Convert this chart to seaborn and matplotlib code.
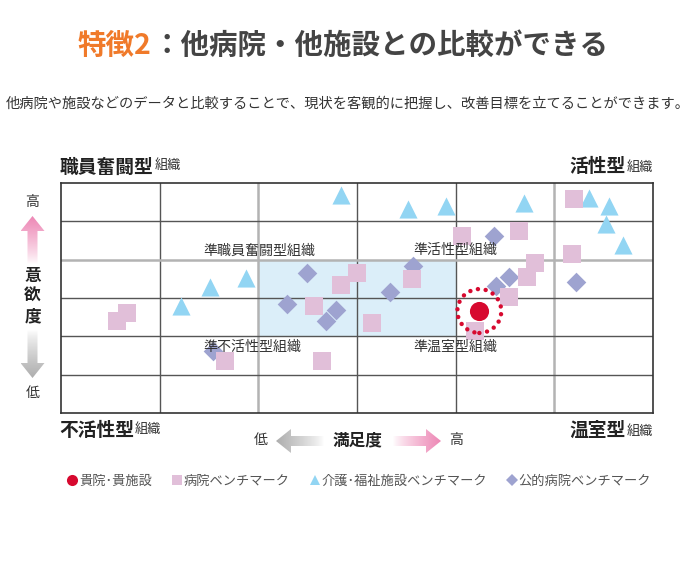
import numpy as np
import pandas as pd
import seaborn as sns
import matplotlib.pyplot as plt
from matplotlib.patches import Polygon, Rectangle
from matplotlib.lines import Line2D

sns.set_style("white")
plt.rcParams['font.family'] = ['Noto Sans CJK JP', 'DejaVu Sans']

# данные: координаты по сетке 6x6 (満足度 по x, 意欲度 по y)
hospital_x = [0.67, 0.57, 3.00, 2.84, 2.56, 1.66, 2.65, 5.20, 4.06, 4.64, 5.18, 4.80, 4.72, 4.54, 3.56, 3.15, 4.20]
hospital_y = [2.60, 2.40, 3.64, 3.33, 2.79, 1.35, 1.35, 5.57, 4.61, 4.74, 4.14, 3.91, 3.54, 3.02, 3.49, 2.34, 2.14]

care_x = [2.84, 1.87, 1.51, 1.22, 3.52, 3.90, 4.69, 5.35, 5.55, 5.52, 5.70]
care_y = [5.68, 3.52, 3.28, 2.79, 5.31, 5.39, 5.47, 5.60, 5.39, 4.92, 4.37]

public_x = [2.49, 2.29, 2.79, 2.69, 1.54, 4.39, 3.57, 3.33, 4.54, 4.41, 5.22]
public_y = [3.65, 2.84, 2.68, 2.40, 1.61, 4.61, 3.83, 3.15, 3.54, 3.31, 3.41]

own_x = [4.24]
own_y = [2.66]

legend_labels = ['貴院･貴施設', '病院ベンチマーク', '介護･福祉施設ベンチマーク', '公的病院ベンチマーク']
quadrant_labels = ['準職員奮闘型組織', '準活性型組織', '準不活性型組織', '準温室型組織']

PINK = '#e1bfd9'
BLUE = '#92d5f3'
VIOLET = '#9ea3d0'
RED = '#d7092f'

df_h = pd.DataFrame({'x': hospital_x, 'y': hospital_y})
df_c = pd.DataFrame({'x': care_x, 'y': care_y})
df_p = pd.DataFrame({'x': public_x, 'y': public_y})
df_o = pd.DataFrame({'x': own_x, 'y': own_y})

W, H = 696, 580
fig = plt.figure(figsize=(W / 100, H / 100), dpi=100)

# слой для оформления в пиксельных координатах
deco = fig.add_axes([0, 0, 1, 1])
deco.set_xlim(0, W)
deco.set_ylim(0, H)
deco.axis('off')

ax = fig.add_axes([61 / W, 167 / H, 592 / W, 230 / H])
ax.set_xlim(0, 6)
ax.set_ylim(0, 6)

# подсвеченная область
ax.add_patch(Rectangle((2, 2), 2, 2, facecolor='#dbeef9', edgecolor='none', zorder=0))

# сетка
for v in range(1, 6):
    c, lw = ('#b3b3b3', 1.8) if v in (2, 5) else ('#555555', 1.0)
    ax.axvline(v, color=c, lw=lw, zorder=1)
for v in range(1, 6):
    c, lw = ('#b3b3b3', 1.8) if v == 4 else ('#555555', 1.0)
    ax.axhline(v, color=c, lw=lw, zorder=1)
for s in ax.spines.values():
    s.set_color('#333333')
    s.set_linewidth(1.2)
ax.set_xticks([])
ax.set_yticks([])

# точки
sns.scatterplot(data=df_c, x='x', y='y', marker='^', s=170, color=BLUE, linewidth=0, ax=ax, zorder=3)
sns.scatterplot(data=df_p, x='x', y='y', marker='D', s=100, color=VIOLET, linewidth=0, ax=ax, zorder=4)
sns.scatterplot(data=df_h, x='x', y='y', marker='s', s=160, color=PINK, linewidth=0, ax=ax, zorder=5)
sns.scatterplot(data=df_o, x='x', y='y', marker='o', s=190, color=RED, linewidth=0, ax=ax, zorder=7)
sns.scatterplot(data=df_o, x='x', y='y', marker='o', s=1000, facecolor='none', edgecolor=RED,
                linewidth=3.2, linestyle=(0, (0.01, 1.75)), capstyle='round', ax=ax, zorder=6)
ax.set_xlabel('')
ax.set_ylabel('')

# подписи квадрантов
ax.text(1.44, 4.24, quadrant_labels[0], fontsize=10.1, color='#333333', va='center', ha='left', zorder=8)
ax.text(3.57, 4.24, quadrant_labels[1], fontsize=10.1, color='#333333', va='center', ha='left', zorder=8)
ax.text(1.44, 1.72, quadrant_labels[2], fontsize=10.1, color='#333333', va='center', ha='left', zorder=8)
ax.text(3.57, 1.72, quadrant_labels[3], fontsize=10.1, color='#333333', va='center', ha='left', zorder=8)


def px(x, y):
    return x, H - y


def corner(x, y, big, ha):
    # крупная часть жирным + мелкое «組織»
    if ha == 'left':
        t = deco.text(*px(x, y), big, fontsize=13.5, fontweight='bold', color='#222222', va='center', ha='left')
        fig.canvas.draw()
        bb = t.get_window_extent()
        deco.text(bb.x1 + 1, H - y + 1, '組織', fontsize=9.5, color='#333333', va='center', ha='left')
    else:
        t = deco.text(*px(x, y + 1), '組織', fontsize=9.5, color='#333333', va='center', ha='right')
        fig.canvas.draw()
        bb = t.get_window_extent()
        deco.text(bb.x0 - 1, H - y, big, fontsize=13.5, fontweight='bold', color='#222222', va='center', ha='right')


corner(60, 167, '職員奮闘型', 'left')
corner(653, 167, '活性型', 'right')
corner(59, 430, '不活性型', 'left')
corner(653, 430, '温室型', 'right')

# заголовок
deco.text(*px(78, 46), '特徴2', fontsize=20.5, fontweight='bold', color='#f07a2a', va='center', ha='left')
deco.text(*px(153, 46), '：他病院・他施設との比較ができる', fontsize=20.5, fontweight='bold',
          color='#444444', va='center', ha='left')
deco.text(*px(348, 104), '他病院や施設などのデータと比較することで、現状を客観的に把握し、改善目標を立てることができます。',
          fontsize=10.25, color='#333333', va='center', ha='center')


def grad_arrow(tip, direction, length, rgb):
    # стрелка с градиентом, заливка через imshow с обрезкой по контуру
    shaft, head, head_len = 10, 24, 15
    tx, ty = tip
    ux, uy = direction
    nx, ny = -uy, ux
    base = (tx - ux * head_len, ty - uy * head_len)
    tail = (tx - ux * length, ty - uy * length)
    pts = [
        (tx, ty),
        (base[0] + nx * head / 2, base[1] + ny * head / 2),
        (base[0] + nx * shaft / 2, base[1] + ny * shaft / 2),
        (tail[0] + nx * shaft / 2, tail[1] + ny * shaft / 2),
        (tail[0] - nx * shaft / 2, tail[1] - ny * shaft / 2),
        (base[0] - nx * shaft / 2, base[1] - ny * shaft / 2),
        (base[0] - nx * head / 2, base[1] - ny * head / 2),
    ]
    pts = [(p[0], H - p[1]) for p in pts]
    poly = Polygon(pts, closed=True, facecolor='none', edgecolor='none', joinstyle='round')
    deco.add_patch(poly)
    xs = [p[0] for p in pts]
    ys = [p[1] for p in pts]
    t = np.linspace(0, 1, 200)
    img = np.zeros((200, 4))
    img[:, :3] = rgb
    # t=0 — хвост, t=1 — остриё
    img[:, 3] = t ** 0.8
    if ux != 0:
        arr = img[None, :, :] if ux > 0 else img[None, ::-1, :]
    else:
        # в пиксельных координатах uy>0 означает вниз
        arr = img[::-1][:, None, :] if uy > 0 else img[:, None, :]
    im = deco.imshow(arr, extent=(min(xs), max(xs), min(ys), max(ys)), origin='lower',
                     aspect='auto', interpolation='bilinear', zorder=2)
    im.set_clip_path(poly)


pink_rgb = np.array([0.93, 0.53, 0.71])
gray_rgb = np.array([0.68, 0.68, 0.68])

grad_arrow((32.5, 216), (0, -1), 48, pink_rgb)
grad_arrow((32.5, 378), (0, 1), 48, gray_rgb)
grad_arrow((276, 441), (-1, 0), 48, gray_rgb)
grad_arrow((441, 441), (1, 0), 48, pink_rgb)
deco.set_xlim(0, W)
deco.set_ylim(0, H)

deco.text(*px(32.5, 202), '高', fontsize=10, color='#333333', va='center', ha='center')
deco.text(*px(32.5, 296), '意\n欲\n度', fontsize=12, fontweight='bold', color='#222222',
          va='center', ha='center', linespacing=1.15)
deco.text(*px(32.5, 393), '低', fontsize=10, color='#333333', va='center', ha='center')
deco.text(*px(261, 440), '低', fontsize=10, color='#333333', va='center', ha='center')
deco.text(*px(358, 440), '満足度', fontsize=12, fontweight='bold', color='#222222', va='center', ha='center')
deco.text(*px(456, 440), '高', fontsize=10, color='#333333', va='center', ha='center')

# легенда
handles = [
    Line2D([], [], marker='o', linestyle='none', markersize=8, markerfacecolor=RED, markeredgewidth=0),
    Line2D([], [], marker='s', linestyle='none', markersize=7, markerfacecolor=PINK, markeredgewidth=0),
    Line2D([], [], marker='^', linestyle='none', markersize=7.5, markerfacecolor=BLUE, markeredgewidth=0),
    Line2D([], [], marker='D', linestyle='none', markersize=6, markerfacecolor=VIOLET, markeredgewidth=0),
]
leg = fig.legend(handles, legend_labels, loc='center', bbox_to_anchor=(359 / W, (H - 481) / H),
                 ncol=4, frameon=False, fontsize=9.5, handlelength=0.8, handletextpad=0.1,
                 columnspacing=1.5, labelcolor='#555555')

fig.savefig('out.png', dpi=100)
